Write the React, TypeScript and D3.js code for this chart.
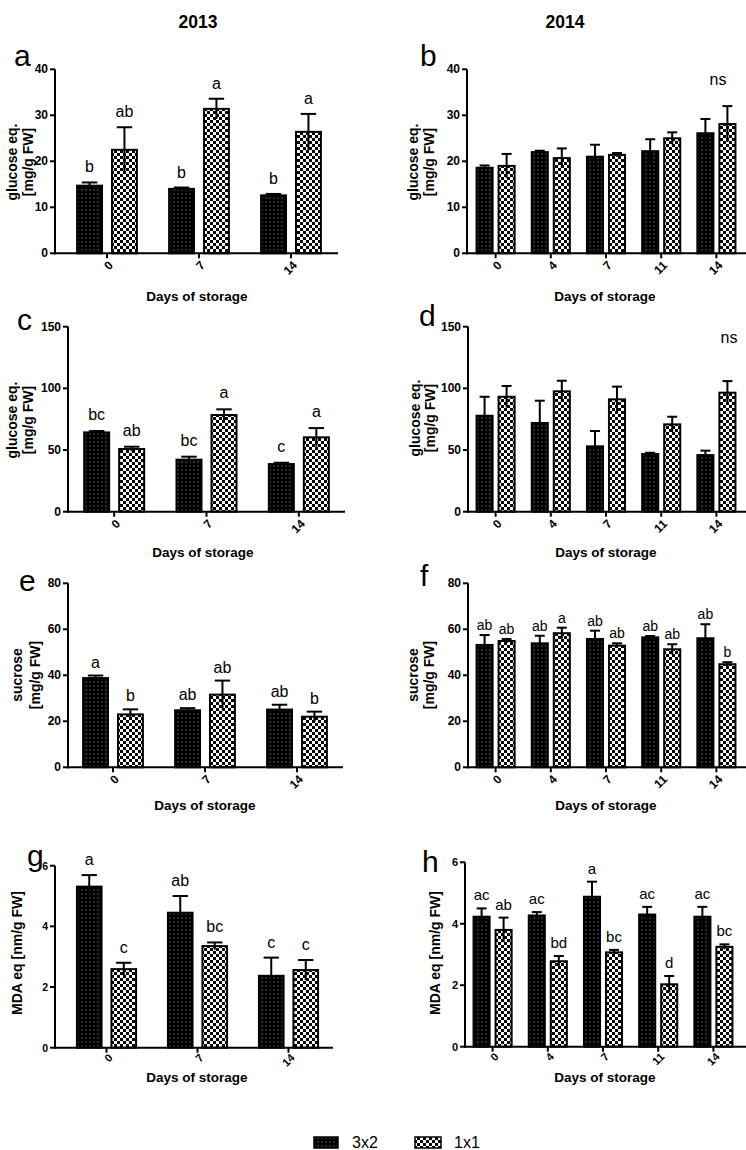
import React from 'react';
import * as d3 from 'd3';

// ---------- data ----------
const days2013 = ['0', '7', '14'];
const days2014 = ['0', '4', '7', '11', '14'];
const seriesNames = ['3x2', '1x1'];

// a: glucose eq. 2013
const aMean3x2 = [14.7, 14.0, 12.6];
const aSd3x2 = [0.7, 0.3, 0.3];
const aMean1x1 = [22.5, 31.4, 26.4];
const aSd1x1 = [4.9, 2.2, 3.9];
const aLet3x2 = ['b', 'b', 'b'];
const aLet1x1 = ['ab', 'a', 'a'];

// b: glucose eq. 2014
const bMean3x2 = [18.6, 22.0, 21.0, 22.2, 26.1];
const bSd3x2 = [0.5, 0.3, 2.6, 2.6, 3.1];
const bMean1x1 = [19.0, 20.7, 21.4, 25.0, 28.1];
const bSd1x1 = [2.6, 2.1, 0.4, 1.3, 3.9];

// c: glucose eq. 2013 (second)
const cMean3x2 = [64.3, 42.2, 38.6];
const cSd3x2 = [1.1, 2.4, 1.1];
const cMean1x1 = [50.8, 78.4, 60.3];
const cSd1x1 = [1.9, 4.6, 7.5];
const cLet3x2 = ['bc', 'bc', 'c'];
const cLet1x1 = ['ab', 'a', 'a'];

// d: glucose eq. 2014 (second)
const dMean3x2 = [77.8, 71.9, 53.0, 46.8, 45.9];
const dSd3x2 = [15.4, 18.1, 12.4, 1.0, 3.6];
const dMean1x1 = [93.2, 97.6, 91.1, 70.8, 96.5];
const dSd1x1 = [8.7, 8.6, 10.3, 6.2, 9.4];

// e: sucrose 2013
const eMean3x2 = [38.8, 24.8, 25.1];
const eSd3x2 = [1.1, 0.9, 2.1];
const eMean1x1 = [23.0, 31.6, 22.0];
const eSd1x1 = [2.2, 6.1, 2.2];
const eLet3x2 = ['a', 'ab', 'ab'];
const eLet1x1 = ['b', 'ab', 'b'];

// f: sucrose 2014
const fMean3x2 = [53.2, 53.9, 55.8, 56.5, 56.1];
const fSd3x2 = [4.3, 3.3, 3.6, 0.6, 6.1];
const fMean1x1 = [54.9, 58.3, 52.9, 51.3, 44.8];
const fSd1x1 = [0.9, 2.4, 1.0, 2.2, 0.9];
const fLet3x2 = ['ab', 'ab', 'ab', 'ab', 'ab'];
const fLet1x1 = ['ab', 'a', 'ab', 'ab', 'b'];

// g: MDA 2013
const gMean3x2 = [5.31, 4.45, 2.37];
const gSd3x2 = [0.38, 0.55, 0.6];
const gMean1x1 = [2.59, 3.35, 2.56];
const gSd1x1 = [0.21, 0.12, 0.33];
const gLet3x2 = ['a', 'ab', 'c'];
const gLet1x1 = ['c', 'bc', 'c'];

// h: MDA 2014
const hMean3x2 = [4.23, 4.27, 4.88, 4.3, 4.23];
const hSd3x2 = [0.27, 0.11, 0.49, 0.25, 0.32];
const hMean1x1 = [3.8, 2.78, 3.07, 2.03, 3.25];
const hSd1x1 = [0.4, 0.17, 0.08, 0.27, 0.08];
const hLet3x2 = ['ac', 'ac', 'a', 'ac', 'ac'];
const hLet1x1 = ['ab', 'bd', 'bc', 'd', 'bc'];

const ticks40 = [0, 10, 20, 30, 40];
const ticks150 = [0, 50, 100, 150];
const ticks80 = [0, 20, 40, 60, 80];
const ticks6 = [0, 2, 4, 6];

const yearTitles = ['2013', '2014'];
const xTitle = 'Days of storage';
const glucoseLabel = ['glucose eq.', '[mg/g FW]'];
const sucroseLabel = ['sucrose', '[mg/g FW]'];
const mdaLabel = ['MDA eq [nm/g FW]'];

const FONT = '"Liberation Sans", Arial, Helvetica, sans-serif';

type PanelCfg = {
  id: string;
  days: string[];
  m1: number[]; s1: number[]; m2: number[]; s2: number[];
  l1?: string[]; l2?: string[];
  ns?: [number, number];
  ticks: number[];
  yMax: number;
  x0: number; xEnd: number; yTop: number; yBottom: number;
  groupRange: [number, number];
  gp: number; ip: number;
  ylabel: string[]; ylabelX: number[]; ylabelY: number;
  letterPos: [number, number];
  titleX: number; titleY: number;
  tickFont: number; letFont: number; letGap: number; xLabOff: number; xLabFont: number;
};

const L13 = { gp: 0.35, ip: 0.286 };
const L14 = { gp: 0.31, ip: 0.27 };

const panels: PanelCfg[] = [
  { id: 'a', days: days2013, m1: aMean3x2, s1: aSd3x2, m2: aMean1x1, s2: aSd1x1, l1: aLet3x2, l2: aLet1x1,
    ticks: ticks40, yMax: 40, x0: 55, xEnd: 338, yTop: 69.3, yBottom: 253.3, groupRange: [61, 337], ...L13,
    ylabel: glucoseLabel, ylabelX: [12, 28], ylabelY: 162, letterPos: [14, 66], titleX: 197, titleY: 301,
    tickFont: 12, letFont: 16, letGap: 10, xLabOff: 10, xLabFont: 12 },
  { id: 'b', days: days2014, m1: bMean3x2, s1: bSd3x2, m2: bMean1x1, s2: bSd1x1, ns: [718, 85],
    ticks: ticks40, yMax: 40, x0: 467, xEnd: 746, yTop: 69.3, yBottom: 253.3, groupRange: [468, 744], ...L14,
    ylabel: glucoseLabel, ylabelX: [413, 429], ylabelY: 162, letterPos: [420, 66], titleX: 605, titleY: 301,
    tickFont: 12, letFont: 16, letGap: 10, xLabOff: 10, xLabFont: 12 },
  { id: 'c', days: days2013, m1: cMean3x2, s1: cSd3x2, m2: cMean1x1, s2: cSd1x1, l1: cLet3x2, l2: cLet1x1,
    ticks: ticks150, yMax: 150, x0: 68, xEnd: 345, yTop: 326.7, yBottom: 511.7, groupRange: [68, 345], ...L13,
    ylabel: glucoseLabel, ylabelX: [12, 28], ylabelY: 420, letterPos: [17, 330], titleX: 203, titleY: 557,
    tickFont: 12, letFont: 16, letGap: 11, xLabOff: 10, xLabFont: 12 },
  { id: 'd', days: days2014, m1: dMean3x2, s1: dSd3x2, m2: dMean1x1, s2: dSd1x1, ns: [729, 343],
    ticks: ticks150, yMax: 150, x0: 468, xEnd: 746, yTop: 326.7, yBottom: 511.7, groupRange: [468, 744], ...L14,
    ylabel: glucoseLabel, ylabelX: [415, 430], ylabelY: 418, letterPos: [419, 326], titleX: 606, titleY: 557,
    tickFont: 12, letFont: 16, letGap: 10, xLabOff: 10, xLabFont: 12 },
  { id: 'e', days: days2013, m1: eMean3x2, s1: eSd3x2, m2: eMean1x1, s2: eSd1x1, l1: eLet3x2, l2: eLet1x1,
    ticks: ticks80, yMax: 80, x0: 68, xEnd: 343, yTop: 583.3, yBottom: 767.3, groupRange: [67, 343], ...L13,
    ylabel: sucroseLabel, ylabelX: [17, 35], ylabelY: 675, letterPos: [19, 591], titleX: 205, titleY: 810,
    tickFont: 12, letFont: 16, letGap: 8, xLabOff: 10, xLabFont: 12 },
  { id: 'f', days: days2014, m1: fMean3x2, s1: fSd3x2, m2: fMean1x1, s2: fSd1x1, l1: fLet3x2, l2: fLet1x1,
    ticks: ticks80, yMax: 80, x0: 468, xEnd: 746, yTop: 583.3, yBottom: 767.3, groupRange: [468, 744], ...L14,
    ylabel: sucroseLabel, ylabelX: [413, 429], ylabelY: 675, letterPos: [420, 586], titleX: 606, titleY: 810,
    tickFont: 12, letFont: 14, letGap: 5, xLabOff: 10, xLabFont: 12 },
  { id: 'g', days: days2013, m1: gMean3x2, s1: gSd3x2, m2: gMean1x1, s2: gSd1x1, l1: gLet3x2, l2: gLet1x1,
    ticks: ticks6, yMax: 6, x0: 55, xEnd: 333, yTop: 865.7, yBottom: 1047.7, groupRange: [61, 334], ...L13,
    ylabel: mdaLabel, ylabelX: [17], ylabelY: 953, letterPos: [27, 866], titleX: 197, titleY: 1082,
    tickFont: 10.5, letFont: 16, letGap: 10, xLabOff: 8, xLabFont: 11 },
  { id: 'h', days: days2014, m1: hMean3x2, s1: hSd3x2, m2: hMean1x1, s2: hSd1x1, l1: hLet3x2, l2: hLet1x1,
    ticks: ticks6, yMax: 6, x0: 465, xEnd: 746, yTop: 862.3, yBottom: 1046.7, groupRange: [465, 741], ...L14,
    ylabel: mdaLabel, ylabelX: [435], ylabelY: 953, letterPos: [422, 872], titleX: 605, titleY: 1082,
    tickFont: 11, letFont: 15, letGap: 8, xLabOff: 8, xLabFont: 11 },
];

const fills = ['url(#dots)', 'url(#checker)'];

function Panel({ p }: { p: PanelCfg }) {
  const y = d3.scaleLinear().domain([0, p.yMax]).range([p.yBottom, p.yTop]);
  const x = d3.scaleBand<string>().domain(p.days).range(p.groupRange)
    .paddingInner(p.gp).paddingOuter(p.gp / 2);
  const xi = d3.scaleBand<string>().domain(seriesNames).range([0, x.bandwidth()]).paddingInner(p.ip);
  const means = [p.m1, p.m2];
  const sds = [p.s1, p.s2];
  const lets = [p.l1, p.l2];
  const bw = xi.bandwidth();
  const capW = bw * 0.62;

  return (
    <g>
      <text x={p.letterPos[0]} y={p.letterPos[1]} fontSize={30} fontFamily={FONT}>{p.id}</text>
      {p.ylabel.map((t, i) => (
        <text key={i} transform={`translate(${p.ylabelX[i]},${p.ylabelY}) rotate(-90)`}
          textAnchor="middle" dominantBaseline="central" fontSize={14} fontWeight="bold" fontFamily={FONT}>{t}</text>
      ))}
      {seriesNames.map((s, si) => p.days.map((d, di) => {
        const bx = (x(d) as number) + (xi(s) as number);
        const m = means[si][di];
        return (
          <rect key={s + d} x={bx} y={y(m)} width={bw} height={y(0) - y(m)}
            fill={fills[si]} stroke="#000" strokeWidth={2} />
        );
      }))}
      {seriesNames.map((s, si) => p.days.map((d, di) => {
        const cx = (x(d) as number) + (xi(s) as number) + bw / 2;
        const m = means[si][di];
        const sd = sds[si][di];
        return (
          <g key={'e' + s + d} stroke="#000" strokeWidth={2}>
            <line x1={cx} x2={cx} y1={y(m - sd)} y2={y(m + sd)} />
            <line x1={cx - capW / 2} x2={cx + capW / 2} y1={y(m + sd)} y2={y(m + sd)} />
          </g>
        );
      }))}
      {seriesNames.map((s, si) => lets[si] ? p.days.map((d, di) => {
        const cx = (x(d) as number) + (xi(s) as number) + bw / 2;
        const top = y(means[si][di] + sds[si][di]);
        return (
          <text key={'l' + s + d} x={cx} y={top - p.letGap} textAnchor="middle"
            fontSize={p.letFont} fontFamily={FONT}>{(lets[si] as string[])[di]}</text>
        );
      }) : null)}
      {p.ns && (
        <text x={p.ns[0]} y={p.ns[1]} textAnchor="middle" fontSize={16} fontFamily={FONT}>ns</text>
      )}
      <line x1={p.x0} x2={p.x0} y1={p.yBottom + 1} y2={p.yTop} stroke="#000" strokeWidth={2} />
      {p.ticks.map((t) => (
        <g key={'t' + t}>
          <line x1={p.x0 - 5} x2={p.x0} y1={y(t)} y2={y(t)} stroke="#000" strokeWidth={2} />
          <text x={p.x0 - 7} y={y(t)} textAnchor="end" dominantBaseline="central"
            fontSize={p.tickFont} fontWeight="bold" fontFamily={FONT}>{t}</text>
        </g>
      ))}
      <line x1={p.x0 - 1} x2={p.xEnd} y1={p.yBottom} y2={p.yBottom} stroke="#000" strokeWidth={2} />
      {p.days.map((d) => {
        const cx = (x(d) as number) + x.bandwidth() / 2;
        return (
          <g key={'x' + d}>
            <line x1={cx} x2={cx} y1={p.yBottom} y2={p.yBottom + 5} stroke="#000" strokeWidth={2} />
            <text transform={`translate(${cx + 4},${p.yBottom + p.xLabOff}) rotate(-45)`} textAnchor="end"
              dominantBaseline="central" fontSize={p.xLabFont} fontWeight="bold" fontFamily={FONT}>{d}</text>
          </g>
        );
      })}
      <text x={p.titleX} y={p.titleY} textAnchor="middle" fontSize={13.5} fontWeight="bold" fontFamily={FONT}>{xTitle}</text>
    </g>
  );
}

export default function App() {
  return (
    <svg width={746} height={1150} style={{ position: 'absolute', left: 0, top: 0, background: '#fff' }}>
      <defs>
        <pattern id="dots" width={4} height={4} patternUnits="userSpaceOnUse">
          <rect width={4} height={4} fill="#000" />
          <rect x={1.5} y={1.5} width={1} height={1} fill="#b0b0b0" />
        </pattern>
        <pattern id="checker" width={6} height={6} patternUnits="userSpaceOnUse">
          <rect width={6} height={6} fill="#fff" />
          <rect width={3} height={3} fill="#000" />
          <rect x={3} y={3} width={3} height={3} fill="#000" />
        </pattern>
      </defs>
      <rect width={746} height={1150} fill="#fff" />
      <text x={198} y={28} textAnchor="middle" fontSize={17.5} fontWeight="bold" fontFamily={FONT}>{yearTitles[0]}</text>
      <text x={565} y={28} textAnchor="middle" fontSize={17.5} fontWeight="bold" fontFamily={FONT}>{yearTitles[1]}</text>
      {panels.map((p) => <Panel key={p.id} p={p} />)}
      <rect x={314} y={1137} width={24} height={11} fill="url(#dots)" stroke="#000" strokeWidth={1.5} />
      <text x={352} y={1148} fontSize={16} fontFamily={FONT}>{seriesNames[0]}</text>
      <rect x={415} y={1137} width={26} height={11} fill="url(#checker)" stroke="#000" strokeWidth={1.5} />
      <text x={454} y={1148} fontSize={16} fontFamily={FONT}>{seriesNames[1]}</text>
    </svg>
  );
}
